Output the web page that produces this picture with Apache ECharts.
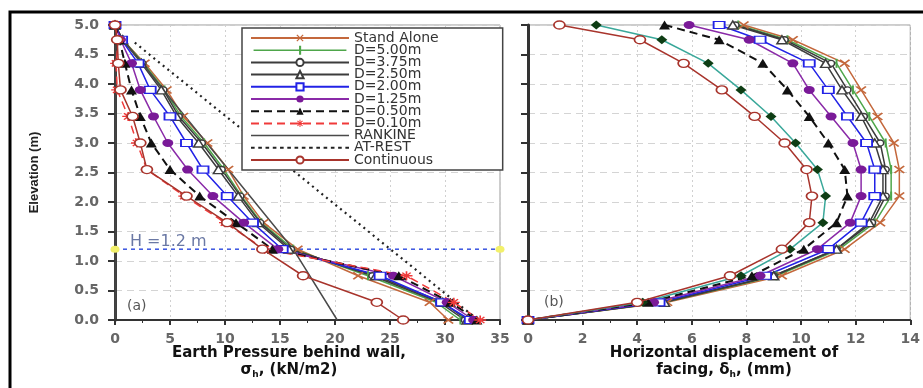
<!DOCTYPE html>
<html>
<head>
<meta charset="utf-8">
<title>Earth pressure and facing displacement</title>
<script src="https://cdn.jsdelivr.net/npm/echarts@6/dist/echarts.min.js"></script>
<style>
  html, body { margin: 0; padding: 0; background: #fff; }
  #chart { width: 923px; height: 388px; }
</style>
</head>
<body>
<div id="chart"></div>
<script>
  // elevation of the measuring points (m), top to bottom
  var elev = [5.0, 4.75, 4.35, 3.9, 3.45, 3.0, 2.55, 2.1, 1.65, 1.2, 0.75, 0.3, 0.0];

  // (a) earth pressure behind wall (kN/m2)
  var pStandAlone = [0, 0.7, 2.7, 4.7, 6.2, 8.4, 10.3, 11.7, 13.5, 16.6, 22.1, 28.6, 30.3];
  var pD500 = [0, 0.7, 2.6, 4.5, 6.0, 8.1, 9.9, 11.5, 13.3, 16.2, 23.0, 29.2, 31.4];
  var pD375 = [0, 0.7, 2.5, 4.4, 5.8, 7.9, 9.7, 11.4, 13.2, 16.0, 23.4, 29.5, 31.8];
  var pD250 = [0, 0.7, 2.4, 4.2, 5.6, 7.6, 9.4, 11.2, 13.0, 15.8, 23.7, 29.8, 32.0];
  var pD200 = [0, 0.6, 2.1, 3.2, 5.0, 6.5, 8.0, 10.2, 12.5, 15.2, 24.1, 29.7, 32.3];
  var pD125 = [0, 0.5, 1.5, 2.3, 3.5, 4.8, 6.6, 8.9, 11.7, 14.8, 25.3, 30.2, 32.6];
  var pD050 = [0, 0.4, 0.9, 1.5, 2.3, 3.3, 5.0, 7.7, 11.0, 14.3, 25.8, 30.5, 32.9];
  var pD010 = [0, 0.3, 0.1, 0.2, 1.2, 2.0, 2.9, 6.3, 10.0, 13.6, 26.5, 30.8, 33.2];
  var pContinuous = [0, 0.2, 0.3, 0.5, 1.6, 2.3, 2.9, 6.5, 10.2, 13.4, 17.1, 23.8, 26.2];

  var rankineElev = [4.75, 1.2, 0];
  var rankineVal = [0.7, 16.2, 20.2];
  var atRestElev = [4.7, 0];
  var atRestVal = [1.8, 33.0];
  var hLineElev = 1.2;
  var hLineVal = [0, 35];

  // (b) horizontal displacement of facing (mm)
  var dStandAlone = [7.9, 9.7, 11.6, 12.2, 12.8, 13.4, 13.6, 13.6, 12.9, 11.6, 9.3, 5.1, 0];
  var dD500 = [7.7, 9.5, 11.3, 11.9, 12.5, 13.1, 13.3, 13.3, 12.7, 11.4, 9.1, 5.0, 0];
  var dD375 = [7.6, 9.4, 11.1, 11.7, 12.3, 12.9, 13.1, 13.1, 12.6, 11.3, 9.0, 4.9, 0];
  var dD250 = [7.5, 9.3, 10.9, 11.5, 12.2, 12.7, 13.0, 13.0, 12.5, 11.3, 9.0, 5.0, 0];
  var dD200 = [7.0, 8.5, 10.3, 11.0, 11.7, 12.4, 12.7, 12.7, 12.2, 11.0, 8.7, 4.8, 0];
  var dD125 = [5.9, 8.1, 9.7, 10.3, 11.1, 11.9, 12.2, 12.2, 11.8, 10.6, 8.5, 4.6, 0];
  var dD050 = [5.0, 7.0, 8.6, 9.5, 10.3, 11.0, 11.6, 11.7, 11.3, 10.1, 8.2, 4.4, 0];
  var dD010 = [2.5, 4.9, 6.6, 7.8, 8.9, 9.8, 10.6, 10.9, 10.8, 9.6, 7.8, 4.2, 0];
  var dContinuous = [1.15, 4.1, 5.7, 7.1, 8.3, 9.4, 10.2, 10.4, 10.3, 9.3, 7.4, 4.0, 0];

  var legendNames = ['Stand Alone', 'D=5.00m', 'D=3.75m', 'D=2.50m', 'D=2.00m', 'D=1.25m',
    'D=0.50m', 'D=0.10m', 'RANKINE', 'AT-REST', 'Continuous'];

  var FONT = '"DejaVu Sans", sans-serif';
  var crossPath = 'path://M1,2L2,1L9,8L8,9Z M8,1L9,2L2,9L1,8Z';
  var starPath = 'path://M4.3,0h1.4v10h-1.4Z M0,4.3h10v1.4h-10Z M1,2L2,1L9,8L8,9Z M8,1L9,2L2,9L1,8Z';

  // legend icons that the default line+symbol icon can't show
  var ICON_W = 98;
  var solidIcon = 'path://M0,0h' + ICON_W + 'v1.5h-' + ICON_W + 'Z';
  var barIcon = 'path://M0,4h' + ICON_W + 'v1.5h-' + ICON_W + 'Z M48,0h2.2v9.5h-2.2Z';
  var dotIcon = 'path://';
  for (var k = 0; k + 3 <= ICON_W; k += 7) {
    dotIcon += 'M' + k + ',0h3.5v2h-3.5Z ';
  }

  function pts(xs, ys) {
    return xs.map(function (v, i) { return [v, ys[i]]; });
  }

  // one line series; open markers get a white fill
  function line(name, values, ys, panel, st) {
    return {
      name: name,
      type: 'line',
      xAxisIndex: panel,
      yAxisIndex: panel,
      data: pts(values, ys),
      symbol: st.symbol || 'none',
      symbolSize: st.size || [10, 7],
      showSymbol: !!st.symbol,
      lineStyle: { color: st.color, width: st.width || 1.5, type: st.type || 'solid' },
      itemStyle: st.open
        ? { color: '#fff', borderColor: st.color, borderWidth: 1.5 }
        : { color: st.mark || st.color, borderWidth: 0 },
      emphasis: { disabled: true },
      z: st.z || 2
    };
  }

  var styles = {
    'Stand Alone': { color: '#c4683c', symbol: crossPath, size: [11, 8] },
    'D=5.00m': { color: '#4ea64a', symbol: 'rect', size: [2, 9] },
    'D=3.75m': { color: '#3c3c3c', symbol: 'circle', size: [7, 6], open: true },
    'D=2.50m': { color: '#3c3c3c', symbol: 'triangle', size: [10, 8], open: true },
    'D=2.00m': { color: '#2222e6', symbol: 'rect', size: [11, 7], open: true },
    'D=1.25m': { color: '#8a2aa8', symbol: 'circle', size: [11, 8], mark: '#7a1a98' },
    'D=0.50m': { color: '#111', symbol: 'triangle', size: [11, 9], type: [8, 5], width: 2 },
    'D=0.10m': { color: '#f03a3a', symbol: starPath, size: [12, 9], type: [8, 5] },
    'Continuous': { color: '#a8342c', symbol: 'circle', size: [11, 8], open: true, z: 3 }
  };
  var styleD010b = { color: '#3aa89a', symbol: 'diamond', size: [11, 9], mark: '#0e3d14' };

  var seriesList = [
    line('Stand Alone', pStandAlone, elev, 0, styles['Stand Alone']),
    line('D=5.00m', pD500, elev, 0, styles['D=5.00m']),
    line('D=3.75m', pD375, elev, 0, styles['D=3.75m']),
    line('D=2.50m', pD250, elev, 0, styles['D=2.50m']),
    line('D=2.00m', pD200, elev, 0, styles['D=2.00m']),
    line('D=1.25m', pD125, elev, 0, styles['D=1.25m']),
    line('D=0.50m', pD050, elev, 0, styles['D=0.50m']),
    line('D=0.10m', pD010, elev, 0, styles['D=0.10m']),
    line('RANKINE', rankineVal, rankineElev, 0, { color: '#4a4a4a', width: 1.5 }),
    line('AT-REST', atRestVal, atRestElev, 0, { color: '#222', width: 2.2, type: [2, 4] }),
    line('Continuous', pContinuous, elev, 0, styles['Continuous']),
    {
      name: 'H line',
      type: 'line',
      xAxisIndex: 0,
      yAxisIndex: 0,
      data: pts(hLineVal, [hLineElev, hLineElev]),
      symbol: 'circle',
      symbolSize: [9, 7],
      itemStyle: { color: '#f2f06a' },
      lineStyle: { color: '#3b55e0', width: 1.5, type: [4, 4] },
      emphasis: { disabled: true },
      z: 1
    },
    line('Stand Alone', dStandAlone, elev, 1, styles['Stand Alone']),
    line('D=5.00m', dD500, elev, 1, styles['D=5.00m']),
    line('D=3.75m', dD375, elev, 1, styles['D=3.75m']),
    line('D=2.50m', dD250, elev, 1, styles['D=2.50m']),
    line('D=2.00m', dD200, elev, 1, styles['D=2.00m']),
    line('D=1.25m', dD125, elev, 1, styles['D=1.25m']),
    line('D=0.50m', dD050, elev, 1, styles['D=0.50m']),
    line('D=0.10m', dD010, elev, 1, styleD010b),
    line('Continuous', dContinuous, elev, 1, styles['Continuous'])
  ];

  var axisLabelStyle = { color: '#666', fontFamily: FONT, fontWeight: 'bold', fontSize: 14 };

  function xAxisFor(grid, max, interval) {
    return {
      type: 'value', gridIndex: grid, min: 0, max: max, interval: interval,
      axisLine: { show: true, onZero: false, lineStyle: { color: '#333', width: 2 } },
      axisTick: { show: true, length: 5, lineStyle: { color: '#333', width: 2 } },
      minorTick: { show: true, splitNumber: 2, length: 3, lineStyle: { color: '#333' } },
      axisLabel: Object.assign({ margin: 12 }, axisLabelStyle),
      splitLine: { show: true, lineStyle: { color: '#d0d0d0', type: [2, 3] } }
    };
  }

  function yAxisFor(grid, labels) {
    return {
      type: 'value', gridIndex: grid, min: 0, max: 5, interval: 0.5,
      axisLine: { show: true, onZero: false, lineStyle: { color: '#333', width: 3 } },
      axisTick: { show: true, length: 7, lineStyle: { color: '#333', width: 2 } },
      axisLabel: Object.assign({ show: labels, margin: 16, formatter: function (v) { return v.toFixed(1); } }, axisLabelStyle),
      splitLine: { show: true, lineStyle: { color: '#d4d4d4', type: [7, 5] } }
    };
  }

  var yLeft = yAxisFor(0, true);
  yLeft.name = 'Elevation (m)';
  yLeft.nameLocation = 'middle';
  yLeft.nameGap = 74;
  yLeft.nameTextStyle = { color: '#222', fontFamily: 'Liberation Sans, sans-serif', fontWeight: 'bold', fontSize: 13 };

  var legendData = legendNames.map(function (n) {
    if (n === 'D=5.00m') return { name: n, icon: barIcon };
    if (n === 'RANKINE') return { name: n, icon: solidIcon };
    if (n === 'AT-REST') return { name: n, icon: dotIcon };
    return { name: n };
  });

  var option = {
    animation: false,
    backgroundColor: '#fff',
    grid: [
      { left: 115, top: 25, width: 385, height: 295, show: true, borderColor: '#9a9a9a', borderWidth: 1 },
      { left: 528, top: 25, width: 389, height: 295, show: true, borderColor: '#9a9a9a', borderWidth: 1 }
    ],
    xAxis: [xAxisFor(0, 35, 5), xAxisFor(1, 14, 2)],
    yAxis: [
      yLeft,
      yAxisFor(1, false),
      {
        type: 'value', gridIndex: 0, position: 'right', min: 0, max: 5,
        axisLine: { show: true, lineStyle: { color: '#444', width: 2.5 } },
        axisTick: { show: false }, axisLabel: { show: false }, splitLine: { show: false }
      }
    ],
    legend: {
      data: legendData,
      orient: 'vertical',
      left: 242,
      top: 28,
      padding: [3, 64, 3, 8],
      itemWidth: ICON_W,
      itemHeight: 9,
      itemGap: -1.8,
      symbolKeepAspect: true,
      backgroundColor: '#fff',
      borderColor: '#444',
      borderWidth: 1.5,
      borderRadius: 0,
      selectedMode: false,
      textStyle: { color: '#333', fontFamily: FONT, fontSize: 14 },
      z: 10
    },
    graphic: [
      {
        type: 'rect', shape: { x: 10, y: 12, width: 940, height: 400 }, silent: true,
        style: { fill: 'none', stroke: '#000', lineWidth: 3 }, z: 0
      },
      {
        type: 'text', left: 130, top: 234, silent: true, z: 5,
        style: { text: 'H =1.2 m', fill: '#6a78a4', font: '16px ' + FONT }
      },
      {
        type: 'text', left: 127, top: 299, silent: true, z: 5,
        style: { text: '(a)', fill: '#555', font: '14px ' + FONT }
      },
      {
        type: 'text', left: 544, top: 295, silent: true, z: 5,
        style: { text: '(b)', fill: '#555', font: '14px ' + FONT }
      },
      {
        type: 'text', x: 289, y: 345, silent: true, z: 5,
        style: {
          text: '{b|Earth Pressure behind wall,}\n{b|σ}{s|h}{b|, (kN/m2)}',
          align: 'center',
          rich: {
            b: { font: 'bold 15px ' + FONT, fill: '#111', lineHeight: 17, align: 'center' },
            s: { font: 'bold 9px ' + FONT, fill: '#111', lineHeight: 17, padding: [8, 0, 0, 0] }
          }
        }
      },
      {
        type: 'text', x: 724, y: 345, silent: true, z: 5,
        style: {
          text: '{b|Horizontal displacement of}\n{b|facing, δ}{s|h}{b|, (mm)}',
          align: 'center',
          rich: {
            b: { font: 'bold 15px ' + FONT, fill: '#111', lineHeight: 17, align: 'center' },
            s: { font: 'bold 9px ' + FONT, fill: '#111', lineHeight: 17, padding: [8, 0, 0, 0] }
          }
        }
      }
    ],
    series: seriesList
  };

  var chart = echarts.init(document.getElementById('chart'));
  chart.setOption(option);
</script>
</body>
</html>
